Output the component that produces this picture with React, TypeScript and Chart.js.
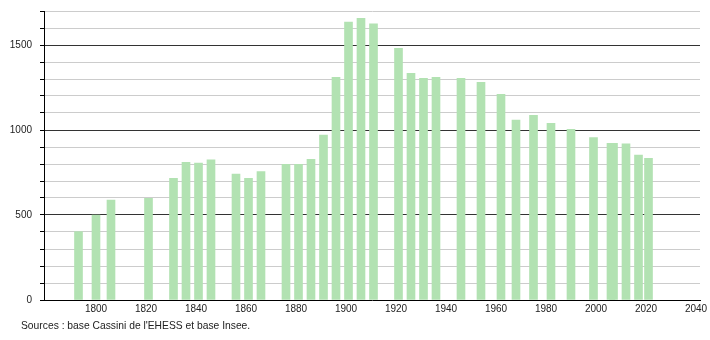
import React, { useEffect, useRef } from "react";
import { Chart, registerables } from "chart.js";

Chart.register(...registerables);

const years = [
  1793, 1800, 1806, 1821, 1831, 1836, 1841, 1846, 1856, 1861, 1866, 1876, 1881, 1886, 1891, 1896,
  1901, 1906, 1911, 1921, 1926, 1931, 1936, 1946, 1954, 1962, 1968, 1975, 1982, 1990, 1999,
  2006, 2007, 2012, 2017, 2021,
];
const population = [
  402, 500, 588, 598, 716, 810, 806, 824, 741, 716, 755, 798, 798, 827, 970, 1310,
  1635, 1657, 1624, 1480, 1333, 1304, 1310, 1304, 1280, 1210, 1059, 1086, 1039, 1004, 955,
  921, 921, 918, 853, 833,
];
const xTickLabels = [1800, 1820, 1840, 1860, 1880, 1900, 1920, 1940, 1960, 1980, 2000, 2020, 2040];
const yLabelValues = [0, 500, 1000, 1500];
const sourceText = "Sources : base Cassini de l'EHESS et base Insee.";

const FONT = "'Liberation Sans', Arial, sans-serif";

export default function App() {
  const canvasRef = useRef<HTMLCanvasElement | null>(null);

  useEffect(() => {
    const canvas = canvasRef.current;
    if (!canvas) return;
    const chart = new Chart(canvas, {
      type: "bar",
      data: {
        datasets: [
          {
            data: years.map((y, i) => ({ x: y, y: population[i] })),
            backgroundColor: "rgb(178,226,178)",
            borderWidth: 0,
            barThickness: 8,
            grouped: false,
          },
        ],
      },
      options: {
        animation: false,
        responsive: false,
        maintainAspectRatio: false,
        devicePixelRatio: 1,
        layout: { padding: { top: 11, right: 10, bottom: 0, left: 0 } },
        plugins: {
          legend: { display: false },
          tooltip: { enabled: false },
        },
        scales: {
          x: {
            type: "linear",
            min: 1779.2,
            max: 2041.6,
            offset: false,
            afterBuildTicks: (scale: any) => {
              scale.ticks = xTickLabels.map((v) => ({ value: v }));
            },
            afterFit: (scale: any) => {
              scale.height = 40;
              scale.paddingLeft = 0;
              scale.paddingRight = 0;
            },
            grid: { display: true, drawOnChartArea: false, drawTicks: false },
            border: { display: true, color: "#000", width: 1 },
            ticks: {
              padding: 3,
              autoSkip: false,
              maxRotation: 0,
              color: "#222",
              font: { family: FONT, size: 10 },
              callback: (v: any) => String(v),
            },
          },
          y: {
            type: "linear",
            min: 0,
            max: 1700,
            afterFit: (scale: any) => {
              scale.width = 44;
              scale.paddingTop = 0;
              scale.paddingBottom = 0;
            },
            ticks: {
              stepSize: 100,
              padding: 8,
              color: "#222",
              font: { family: FONT, size: 10 },
              callback: (v: any) => (yLabelValues.includes(Number(v)) ? String(v) : ""),
            },
            grid: {
              drawTicks: true,
              tickLength: 4,
              tickColor: "#000",
              color: (ctx: any) => {
                const v = ctx.tick ? ctx.tick.value : 0;
                if (v === 0) return "rgba(0,0,0,0)";
                return v % 500 === 0 ? "#333" : "#ccc";
              },
              lineWidth: 1,
            },
            border: { display: true, color: "#000", width: 1 },
          },
        },
      },
    });
    return () => chart.destroy();
  }, []);

  return (
    <div style={{ position: "fixed", left: 0, top: 0, width: 710, height: 340, background: "#fff" }}>
      <canvas ref={canvasRef} width={710} height={340} style={{ display: "block" }} />
      <div
        style={{
          position: "absolute",
          left: 21,
          top: 320,
          fontFamily: FONT,
          fontSize: 10.3,
          color: "#222",
          whiteSpace: "nowrap",
        }}
      >
        {sourceText}
      </div>
    </div>
  );
}
